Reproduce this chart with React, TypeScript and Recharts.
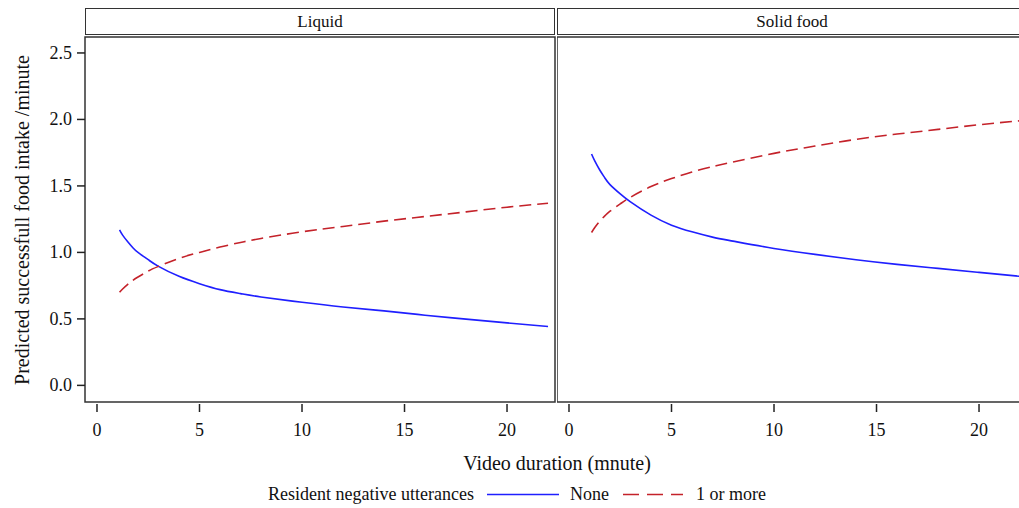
import { LineChart, Line, XAxis, YAxis, ReferenceArea } from "recharts";

const durations = [1.1, 1.25, 1.5, 1.75, 2, 2.5, 3, 4, 5, 6, 7, 8, 10, 12, 14, 16, 18, 20, 22];

const liquidNone = [1.17, 1.13, 1.08, 1.035, 1.0, 0.945, 0.895, 0.82, 0.765, 0.72, 0.69, 0.665, 0.625, 0.59, 0.56, 0.528, 0.498, 0.47, 0.443];
const liquidOneOrMore = [0.7, 0.725, 0.76, 0.79, 0.815, 0.86, 0.895, 0.955, 1.0, 1.04, 1.075, 1.105, 1.155, 1.195, 1.235, 1.27, 1.305, 1.34, 1.37];
const solidNone = [1.74, 1.69, 1.62, 1.56, 1.51, 1.44, 1.38, 1.28, 1.205, 1.155, 1.115, 1.085, 1.03, 0.985, 0.945, 0.91, 0.88, 0.85, 0.82];
const solidOneOrMore = [1.15, 1.185, 1.235, 1.275, 1.31, 1.365, 1.415, 1.495, 1.555, 1.605, 1.645, 1.68, 1.745, 1.8, 1.85, 1.89, 1.925, 1.96, 1.99];

const xTicks = [0, 5, 10, 15, 20];
const yTicks = [0, 0.5, 1, 1.5, 2, 2.5];
const panels = ["Liquid", "Solid food"];

const X_DOMAIN: [number, number] = [-0.585, 22.34];
const Y_DOMAIN: [number, number] = [-0.125, 2.62];

const FONT = '"Liberation Serif", "Times New Roman", serif';
const BLUE = "#1f1fff";
const RED = "#c4222a";
const DASH = "12 6";

const build = (none: number[], more: number[]) =>
  durations.map((d, i) => ({ x: d, none: none[i], more: more[i] }));

const liquidData = build(liquidNone, liquidOneOrMore);
const solidData = build(solidNone, solidOneOrMore);

const XTick = ({ x, y, payload }: any) => (
  <g>
    <line x1={x} x2={x} y1={y + 2} y2={y + 10} stroke="#222" strokeWidth={1.5} />
    <text x={x} y={y + 34} textAnchor="middle" fontSize={18} fill="#111" style={{ fontFamily: FONT }}>
      {payload.value}
    </text>
  </g>
);

const YTick = ({ x, y, payload }: any) => (
  <g>
    <line x1={x - 8} x2={x} y1={y} y2={y} stroke="#222" strokeWidth={1.5} />
    <text x={x - 13} y={y + 6} textAnchor="end" fontSize={18} fill="#111" style={{ fontFamily: FONT }}>
      {Number(payload.value).toFixed(1)}
    </text>
  </g>
);

function Panel({ data, showY, width }: { data: any[]; showY: boolean; width: number }) {
  return (
    <LineChart
      width={width}
      height={508}
      data={data}
      margin={{ top: 37, right: showY ? 5 : 0, bottom: 76, left: showY ? 25 : 0 }}
    >
      <XAxis
        dataKey="x"
        type="number"
        domain={X_DOMAIN}
        ticks={xTicks}
        allowDataOverflow
        axisLine={false}
        tickLine={false}
        tickSize={0}
        tickMargin={0}
        height={30}
        tick={<XTick />}
        interval={0}
      />
      <YAxis
        type="number"
        domain={Y_DOMAIN}
        ticks={yTicks}
        allowDataOverflow
        hide={!showY}
        axisLine={false}
        tickLine={false}
        tickSize={0}
        tickMargin={0}
        width={60}
        tick={<YTick />}
        interval={0}
      />
      <ReferenceArea
        x1={X_DOMAIN[0]}
        x2={X_DOMAIN[1]}
        y1={Y_DOMAIN[0]}
        y2={Y_DOMAIN[1]}
        fill="none"
        stroke="#333"
        strokeWidth={1.5}
        fillOpacity={0}
      />
      <Line dataKey="none" type="natural" stroke={BLUE} strokeWidth={1.6} dot={false} isAnimationActive={false} />
      <Line
        dataKey="more"
        type="natural"
        stroke={RED}
        strokeWidth={1.6}
        strokeDasharray={DASH}
        dot={false}
        isAnimationActive={false}
      />
    </LineChart>
  );
}

const headerStyle = (left: number, width: number): any => ({
  position: "absolute",
  left,
  top: 8,
  width,
  height: 27,
  boxSizing: "border-box",
  border: "1.5px solid #333",
  textAlign: "center",
  fontSize: 17,
  lineHeight: "25px",
  fontFamily: FONT,
  color: "#111",
  background: "#fff",
});

export default function App() {
  return (
    <div
      style={{
        position: "absolute",
        left: 0,
        top: 0,
        width: 1019,
        height: 508,
        overflow: "hidden",
        background: "#fff",
        fontFamily: FONT,
      }}
    >
      <div style={{ position: "absolute", left: 0, top: 0 }}>
        <Panel data={liquidData} showY width={560} />
      </div>
      <div style={{ position: "absolute", left: 557, top: 0 }}>
        <Panel data={solidData} showY={false} width={470} />
      </div>
      <div style={headerStyle(85, 470)}>{panels[0]}</div>
      <div style={headerStyle(557, 470)}>{panels[1]}</div>

      {/* y axis title */}
      <div
        style={{
          position: "absolute",
          left: 22,
          top: 220,
          transform: "translate(-50%, -50%) rotate(-90deg)",
          whiteSpace: "nowrap",
          fontSize: 20,
          color: "#111",
        }}
      >
        Predicted successfull food intake /minute
      </div>

      {/* x axis title */}
      <div
        style={{
          position: "absolute",
          left: 557,
          top: 463,
          transform: "translate(-50%, -50%)",
          whiteSpace: "nowrap",
          fontSize: 20,
          color: "#111",
        }}
      >
        Video duration (mnute)
      </div>

      {/* legend */}
      <div
        style={{
          position: "absolute",
          left: 268,
          top: 494,
          transform: "translateY(-50%)",
          display: "flex",
          alignItems: "center",
          whiteSpace: "nowrap",
          fontSize: 18,
          color: "#111",
        }}
      >
        <span>Resident negative utterances</span>
        <svg width={72} height={10} style={{ marginLeft: 13 }}>
          <line x1={0} x2={72} y1={5} y2={5} stroke={BLUE} strokeWidth={1.6} />
        </svg>
        <span style={{ marginLeft: 11 }}>None</span>
        <svg width={60} height={10} style={{ marginLeft: 14 }}>
          <line x1={0} x2={60} y1={5} y2={5} stroke={RED} strokeWidth={1.6} strokeDasharray="16 8" />
        </svg>
        <span style={{ marginLeft: 13 }}>1 or more</span>
      </div>
    </div>
  );
}
